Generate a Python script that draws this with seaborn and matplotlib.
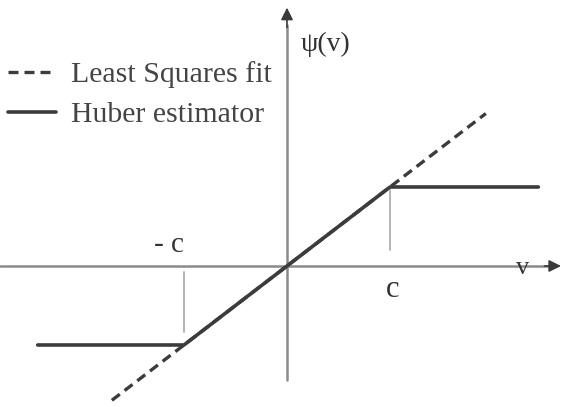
import matplotlib
matplotlib.use("Agg")
import matplotlib.pyplot as plt
import seaborn as sns
import pandas as pd

# Huber psi function (c = 1) and the least-squares identity line
huber_v = [-2.42, -1.0, 1.0, 2.44]
huber_psi = [-1.0, -1.0, 1.0, 1.0]
ls_v = [-1.70, 1.93]
ls_psi = [-1.70, 1.93]
c_value = 1.0

legend_labels = ["Least Squares fit", "Huber estimator"]
axis_labels = {"x": "v", "y": "ψ(v)"}
tick_labels = ["- c", "c"]

sns.set_theme(style="white")
plt.rcParams["font.family"] = ["Liberation Serif", "DejaVu Serif"]

fig = plt.figure(figsize=(5.64, 4.07), dpi=100)
ax = fig.add_axes([0, 0, 1, 1])
ax.set_xlim(-2.786, 2.689)
ax.set_ylim(-1.785, 3.367)

axis_col = "#8a8a8a"
head_col = "#3a3a3a"
line_col = "#3c3c3c"

# coordinate axes: grey shafts with dark arrow heads
ax.plot([-2.79, 2.55], [0, 0], color=axis_col, lw=1.8, zorder=1)
ax.plot([0, 0], [-1.44, 3.05], color=axis_col, lw=1.8, zorder=1)
ax.annotate("", xy=(2.66, 0), xytext=(2.50, 0),
            arrowprops=dict(arrowstyle="-|>", color=head_col, lw=1.2,
                            mutation_scale=18, shrinkA=0, shrinkB=0))
ax.annotate("", xy=(0, 3.27), xytext=(0, 3.02),
            arrowprops=dict(arrowstyle="-|>", color=head_col, lw=1.2,
                            mutation_scale=18, shrinkA=0, shrinkB=0))

# guide marks at +/- c
ax.plot([c_value, c_value], [0.96, 0.20], color="#b5b5b5", lw=1.4)
ax.plot([-c_value, -c_value], [-0.08, -0.84], color="#b5b5b5", lw=1.4)

ls_df = pd.DataFrame({"v": ls_v, "psi": ls_psi})
hub_df = pd.DataFrame({"v": huber_v, "psi": huber_psi})

sns.lineplot(data=ls_df, x="v", y="psi", ax=ax, color=line_col, lw=2.4,
             dashes=False, linestyle=(0, (3.0, 1.8)), label=legend_labels[0],
             sort=False, zorder=3)
sns.lineplot(data=hub_df, x="v", y="psi", ax=ax, color=line_col, lw=2.6,
             label=legend_labels[1], sort=False, zorder=4)
ax.axis("off")

leg = ax.legend(loc="upper left", bbox_to_anchor=(8 / 564, 1 - 61 / 407),
                frameon=False, fontsize=21.5, handlelength=1.6,
                handletextpad=0.5, labelspacing=0.45, borderpad=0,
                borderaxespad=0)
for t in leg.get_texts():
    t.set_color("#444444")

txt_col = "#333333"
ax.text(0.13, 2.80, axis_labels["y"], fontsize=20, color=txt_col,
        ha="left", va="center")
ax.text(2.29, -0.02, axis_labels["x"], fontsize=19, color=txt_col,
        ha="center", va="center")
ax.text(-1.15, 0.27, tick_labels[0], fontsize=21, color=txt_col,
        ha="center", va="center")
ax.text(1.03, -0.30, tick_labels[1], fontsize=22, color=txt_col,
        ha="center", va="center")

fig.savefig("out.png", dpi=100)
